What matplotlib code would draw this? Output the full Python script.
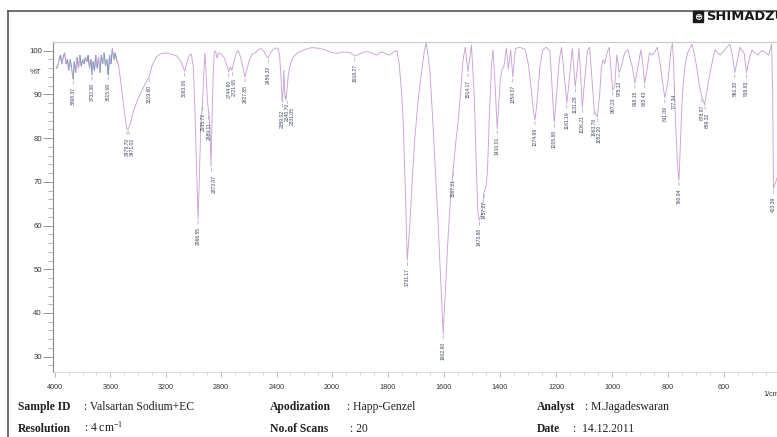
import numpy as np
import matplotlib
matplotlib.use("Agg")
import matplotlib.pyplot as plt
from matplotlib.collections import LineCollection
from matplotlib.lines import Line2D
from matplotlib.ticker import FixedLocator, NullFormatter, FixedFormatter

# ---------------- data ----------------
wavenumber = [
    3990, 3980, 3970, 3960, 3950, 3940, 3930, 3920, 3910, 3900, 3890, 3880, 3868.37, 3860,
    3850, 3840, 3830, 3820, 3810, 3800, 3790, 3780, 3770, 3760, 3750, 3740, 3732.38, 3725,
    3715, 3705, 3695, 3685, 3675, 3665, 3655, 3645, 3635, 3625, 3615.69, 3605, 3595, 3585,
    3575, 3565, 3555, 3545,
    3540, 3525, 3505, 3490, 3479.70, 3471.02, 3455, 3430, 3400, 3370, 3340, 3319.60, 3300,
    3270, 3240, 3200, 3160, 3120, 3090, 3063.06, 3045, 3030, 3015, 3000, 2988, 2975,
    2966.55, 2958, 2948, 2935.72, 2926, 2918, 2910, 2900, 2889.11, 2880, 2873.07, 2866,
    2858, 2850, 2840, 2830, 2818, 2800, 2780, 2762, 2744.80, 2733, 2721.65, 2708, 2690,
    2675, 2660, 2645, 2627.85, 2612, 2595, 2575, 2550, 2530, 2510, 2490, 2470, 2459.32,
    2445, 2425, 2405, 2390, 2378, 2368, 2359.02, 2352, 2347, 2344, 2340.70, 2336, 2331.05,
    2325, 2315, 2300, 2280, 2250, 2200, 2150, 2100, 2050, 2010,
    1985, 1960, 1936, 1918.27, 1900, 1880, 1864, 1850, 1840, 1828, 1818, 1805, 1793, 1780,
    1768, 1760, 1752, 1745, 1738, 1731.17, 1722, 1712, 1704, 1692, 1680, 1670, 1664, 1657,
    1650, 1640, 1630, 1622, 1612, 1602.90, 1595, 1586, 1576, 1567.21, 1558, 1550, 1540,
    1532, 1524, 1514.17, 1502, 1492, 1485, 1479, 1473.88, 1466, 1460, 1457.27, 1450, 1445,
    1438, 1430, 1425, 1418, 1410.01, 1404, 1399, 1393, 1386, 1377, 1370, 1362, 1354.07,
    1345, 1330, 1310, 1298, 1288, 1280, 1274.99, 1268, 1258, 1248, 1235, 1222, 1215, 1210,
    1205.88, 1198, 1188, 1180, 1170, 1161.19, 1150, 1142, 1136, 1131.29, 1124, 1118, 1112,
    1106.21, 1098, 1088, 1080, 1072, 1063.78, 1058, 1052.20, 1044, 1038, 1032, 1026, 1018,
    1010, 1004, 997.23, 990, 983, 978, 975.12, 968, 955, 943, 935, 928, 918.15, 908, 897,
    890, 883.43, 874, 866, 858, 850, 838, 828, 820, 811.09, 800, 790, 784, 780, 777.34,
    772, 766, 760.94, 755, 750, 745, 738, 730, 714, 705, 697, 688, 678.97, 672, 669.32,
    662, 650, 640, 632, 622, 614, 600, 590, 579, 570, 561.30, 552, 543, 535, 528, 519.83,
    510, 500, 490, 478, 470, 461, 450, 440, 430, 426, 423.39, 415, 405, 400,
]
transmittance = [
    96.0, 96.5, 98.0, 99.0, 97.0, 98.5, 99.5, 97.0, 98.0, 95.5, 98.0, 96.0, 93.5, 97.5,
    95.0, 98.5, 96.0, 99.0, 96.5, 98.0, 97.0, 98.5, 97.5, 99.0, 96.0, 98.0, 94.5, 97.5,
    95.5, 99.0, 96.0, 98.5, 95.0, 99.0, 97.0, 99.5, 96.5, 98.0, 94.5, 99.0, 97.0, 100.5,
    98.0, 99.5, 98.0, 97.0,
    96.5, 93.0, 87.5, 84.0, 82.0, 82.0, 83.5, 86.5, 89.0, 91.0, 93.0, 94.0, 96.5,
    98.5, 99.3, 99.5, 99.2, 98.8, 97.5, 95.3, 97.5, 99.0, 99.2, 96.0, 85.0, 70.0,
    61.5, 70.0, 82.0, 87.5, 94.0, 99.5, 96.0, 89.0, 85.5, 82.0, 73.5, 84.0,
    94.0, 99.5, 100.0, 98.3, 99.5, 99.3, 98.5, 97.0, 95.2, 96.3, 95.5, 97.5, 99.5,
    100.0, 98.5, 96.5, 94.0, 96.0, 98.0, 99.2, 99.6, 100.3, 100.5, 99.8, 98.6, 98.3,
    99.5, 100.3, 100.6, 100.6, 99.0, 94.0, 88.2, 91.0, 95.5, 93.0, 90.0, 89.5, 89.0,
    91.0, 94.5, 97.0, 98.5, 99.5, 100.2, 100.7, 100.6, 100.2, 99.7,
    99.4, 99.7, 99.6, 98.8, 99.3, 99.8, 99.7, 99.2, 99.0, 99.6, 99.7, 99.2, 99.0, 99.7,
    100.0, 97.0, 91.0, 83.0, 68.0, 52.0, 60.0, 72.0, 80.0, 89.0, 95.0, 100.0, 101.8, 99.0,
    95.0, 84.0, 72.0, 62.0, 48.0, 35.2, 45.0, 56.7, 67.0, 72.5, 79.0, 83.4, 91.0,
    97.9, 100.8, 95.2, 101.3, 90.0, 75.0, 63.0, 61.2, 62.5, 65.5, 67.5, 69.0, 72.0,
    85.0, 97.0, 100.2, 93.0, 82.2, 88.0, 93.3, 95.6, 96.5, 100.6, 95.8, 100.2, 94.0,
    100.5, 100.8, 100.3, 96.7, 91.0, 86.0, 84.2, 88.0, 96.0, 100.2, 100.8, 100.0, 93.0, 87.0,
    83.6, 90.0, 98.0, 100.8, 94.0, 88.0, 95.0, 100.5, 96.0, 91.7, 96.0, 100.5, 95.0,
    87.0, 93.0, 100.0, 100.8, 94.0, 86.5, 85.5, 84.9, 90.0, 96.0, 98.0, 97.0, 99.5,
    100.8, 96.0, 91.0, 92.0, 99.0, 97.0, 95.0, 96.0, 99.5, 100.2, 98.0, 96.5, 92.6, 96.0, 100.2,
    97.0, 92.6, 96.0, 99.5, 99.0, 99.5, 100.8, 97.0, 93.0, 89.2, 93.0, 100.0, 101.7, 97.0, 92.0,
    82.0, 74.0, 70.3, 80.0, 88.0, 93.0, 97.0, 99.5, 101.5, 99.0, 96.0, 92.0, 89.4, 88.2, 87.6,
    90.5, 95.0, 98.0, 100.2, 99.5, 99.0, 100.0, 100.8, 101.5, 99.0, 95.0, 98.0, 100.8, 100.0, 99.5, 95.0,
    98.0, 100.2, 99.5, 99.0, 99.8, 100.0, 99.5, 99.0, 101.5, 90.0, 68.5, 70.0, 72.0, 74.0,
]

peak_labels = [
    "3868.37", "3732.38", "3615.69", "3479.70", "3471.02", "3319.60", "3063.06",
    "2966.55", "2935.72", "2889.11", "2873.07", "2744.80", "2721.65", "2627.85",
    "2459.32", "2359.02", "2340.70", "2331.05", "1918.27", "1731.17", "1602.90",
    "1567.21", "1514.17", "1473.88", "1457.27", "1410.01", "1354.07", "1274.99",
    "1205.88", "1161.19", "1131.29", "1106.21", "1063.78", "1052.20", "997.23",
    "975.12", "918.15", "883.43", "811.09", "777.34", "760.94", "678.97", "669.32",
    "561.30", "519.83", "423.39",
]

x_major = [4000, 3600, 3200, 2800, 2400, 2000, 1800, 1600, 1400, 1200, 1000, 800, 600, 400]
x_labels = ["4000", "3600", "3200", "2800", "2400", "2000", "1800", "1600", "1400",
            "1200", "1000", "800", "600", "4"]
x_minor = list(range(4000, 2000, -100)) + list(range(2000, 399, -50))
y_major = [30, 40, 50, 60, 70, 80, 90, 100]
y_minor = list(range(28, 102, 2))

info_keys = ["Sample ID", "Apodization", "Analyst", "Resolution", "No.of Scans", "Date"]
info_vals = [": Valsartan Sodium+EC", ": Happ-Genzel", ": M.Jagadeswaran",
             ": 4 cm$^{-1}$", ": 20", ":  14.12.2011"]

# ---------------- broken (compressed above 2000) x scale ----------------
R = 0.1385 / 0.28


def fwd(w):
    w = np.asarray(w, float)
    return np.where(w <= 2000, w, 2000 + (w - 2000) * R)


def inv(u):
    u = np.asarray(u, float)
    return np.where(u <= 2000, u, 2000 + (u - 2000) / R)


plt.rcParams["mathtext.default"] = "regular"
W, H = 777, 437
fig = plt.figure(figsize=(W / 100, H / 100), dpi=100)
fig.patch.set_facecolor("white")

ax = fig.add_axes([53 / W, 1 - 372 / H, 727 / W, 330 / H])
ax.set_xscale("function", functions=(fwd, inv))
ax.set_xlim(4014, 400)
ax.set_ylim(26.5, 102)

curve_color = "#c9a3d4"
ax.plot(wavenumber, transmittance, color=curve_color, lw=0.65, zorder=3)

# coloured noisy segments at the high-wavenumber end
wn = np.array(wavenumber)
tr = np.array(transmittance)
mask = wn >= 3545
pts = np.column_stack([wn[mask], tr[mask]])
segs = [pts[i:i + 2] for i in range(len(pts) - 1)]
cyc = ["#6f9cc4", "#c9a3d4", "#6fae9c", "#7f8fc8", "#c9a3d4"]
lc = LineCollection(segs, colors=[cyc[i % len(cyc)] for i in range(len(segs))],
                    linewidths=0.7, zorder=4)
ax.add_collection(lc)

# axes styling
ax.spines["right"].set_visible(False)
ax.spines["top"].set_color("#c8c8c8")
ax.spines["top"].set_linewidth(0.8)
ax.spines["left"].set_color("#8a8a8a")
ax.spines["left"].set_linewidth(0.8)
ax.spines["bottom"].set_color("#d0d0d0")
ax.spines["bottom"].set_linewidth(0.5)

ax.xaxis.set_major_locator(FixedLocator(x_major))
ax.xaxis.set_major_formatter(FixedFormatter(x_labels))
ax.xaxis.set_minor_locator(FixedLocator(x_minor))
ax.xaxis.set_minor_formatter(NullFormatter())
ax.yaxis.set_major_locator(FixedLocator(y_major))
ax.yaxis.set_minor_locator(FixedLocator(y_minor))
ax.yaxis.set_minor_formatter(NullFormatter())

ax.tick_params(axis="x", which="major", length=3.5, width=0.5, color="#9a9a9a",
               pad=5, labelsize=5.2, labelcolor="#333333")
ax.tick_params(axis="x", which="minor", length=2.2, width=0.4, color="#b0b0b0")
ax.tick_params(axis="y", which="major", length=7, width=0.6, color="#8a8a8a",
               pad=1, labelsize=5.6, labelcolor="#333333")
ax.tick_params(axis="y", which="minor", length=3.5, width=0.5, color="#9a9a9a")
for lab in ax.get_xticklabels() + ax.get_yticklabels():
    lab.set_family("Liberation Sans")

ax.text(-0.0155, 95, "%T", transform=ax.get_yaxis_transform(), ha="right", va="center",
        fontsize=5.6, family="Liberation Sans", color="#333333")
# unit label under the last (cut-off) tick label
fig.text(763 / W, 1 - 391 / H, "1/cm", ha="left", va="top", fontsize=5.2,
         family="Liberation Sans", color="#333333")

# ---------------- peak labels ----------------
fig.canvas.draw()
order = np.argsort(wn)
peak_w = np.array([float(p) for p in peak_labels])
peak_t = np.interp(peak_w, wn[order], tr[order])
disp = ax.transData.transform(np.column_stack([peak_w, peak_t]))
px = disp[:, 0]
srt = np.argsort(px)
lab_x = px.copy()
min_sep = 5.0
prev = -1e9
for i in srt:
    lab_x[i] = max(px[i], prev + min_sep)
    prev = lab_x[i]

gap_px = 8.0
for i, txt in enumerate(peak_labels):
    dx = (lab_x[i] - px[i]) * 72 / fig.dpi
    dy = -gap_px * 72 / fig.dpi
    ax.annotate(txt, xy=(peak_w[i], peak_t[i]), xytext=(dx, dy), textcoords="offset points",
                rotation=90, ha="center", va="top", fontsize=3.6, family="Liberation Sans",
                color="#3f4863", zorder=5,
                arrowprops=dict(arrowstyle="-", lw=0.35, color="#7a7f95",
                                shrinkA=0, shrinkB=1.2))

# ---------------- page decorations ----------------
fig.add_artist(Line2D([8 / W, 1.0], [1 - 11 / H, 1 - 11 / H], transform=fig.transFigure,
                      color="#555555", lw=1.2))
fig.add_artist(Line2D([8 / W, 8 / W], [0, 1 - 11 / H], transform=fig.transFigure,
                      color="#555555", lw=1.2))

fig.text(698 / W, 1 - 16.5 / H, "\u2295", ha="center", va="center", fontsize=7,
         color="white", fontweight="bold", family="DejaVu Sans",
         bbox=dict(boxstyle="square,pad=0.1", fc="#1a1a1a", ec="#1a1a1a"))
fig.text(706 / W, 1 - 16.5 / H, "SHIMADZU", ha="left", va="center", fontsize=9.4,
         fontweight="bold", family="DejaVu Sans", color="#1a1a1a")

key_x = [18, 270, 537, 18, 270, 537]
val_x = [84, 347, 585, 84, 350, 573]
row_y = [410, 410, 410, 432, 432, 432]
for k, v, kx, vx, ry in zip(info_keys, info_vals, key_x, val_x, row_y):
    fig.text(kx / W, 1 - ry / H, k, ha="left", va="baseline", fontsize=8.4,
             fontweight="bold", family="Liberation Serif", color="#202020")
    fig.text(vx / W, 1 - ry / H, v, ha="left", va="baseline", fontsize=8.4,
             family="Liberation Serif", color="#202020")

fig.savefig("out.png", dpi=100, facecolor="white")
